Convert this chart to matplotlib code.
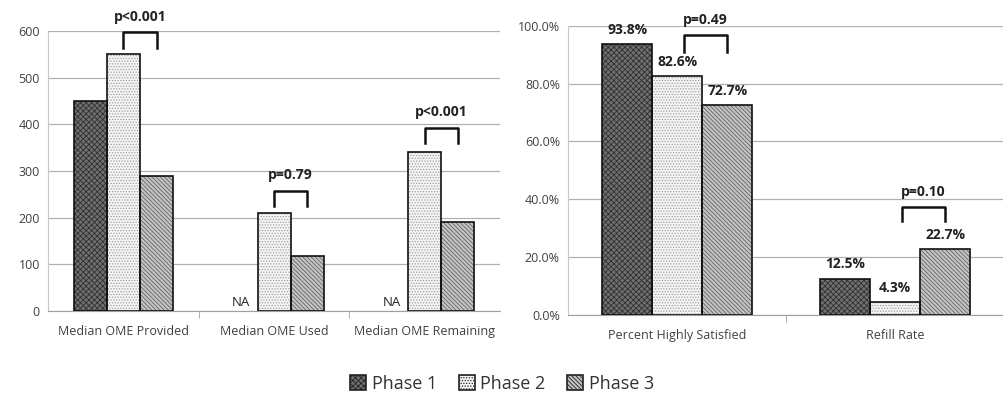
import matplotlib.pyplot as plt
import numpy as np
from matplotlib.patches import Patch
from matplotlib.ticker import PercentFormatter

plt.rcParams['font.family'] = ['Open Sans', 'DejaVu Sans']
plt.rcParams['hatch.linewidth'] = 0.6

# data
left_cats = ['Median OME Provided', 'Median OME Used', 'Median OME Remaining']
left_p1 = [450, np.nan, np.nan]
left_p2 = [550, 210, 340]
left_p3 = [290, 117, 190]
left_pvals = ['p<0.001', 'p=0.79', 'p<0.001']

right_cats = ['Percent Highly Satisfied', 'Refill Rate']
right_p1 = [93.8, 12.5]
right_p2 = [82.6, 4.3]
right_p3 = [72.7, 22.7]
right_pvals = ['p=0.49', 'p=0.10']

phases = ['Phase 1', 'Phase 2', 'Phase 3']
faces = ['#707070', '#f4f4f4', '#c4c4c4']
hatch_cols = ['#303030', '#a0a0a0', '#666666']
hatches = ['xxxxxx', '......', '\\\\\\\\\\\\\\\\']
txt = '#404040'

fig = plt.figure(figsize=(10.04, 3.98), dpi=100)
ax1 = fig.add_axes([0.048, 0.219, 0.450, 0.703])
ax2 = fig.add_axes([0.566, 0.209, 0.434, 0.726])


def draw_bars(ax, series, width):
    x = np.arange(len(series[0]))
    for i, vals in enumerate(series):
        xi = x + (i - 1) * width
        ax.bar(xi, vals, width, color=faces[i], hatch=hatches[i],
               edgecolor=hatch_cols[i], linewidth=0, zorder=2)
        ax.bar(xi, vals, width, fill=False, edgecolor='#111111',
               linewidth=1.2, zorder=3)
    return x


def style(ax, ncat):
    ax.set_xlim(-0.5, ncat - 0.5)
    for s in ['top', 'right']:
        ax.spines[s].set_visible(False)
    ax.spines['left'].set_color('#c8c8c8')
    ax.spines['bottom'].set_color('#a0a0a0')
    ax.yaxis.grid(True, color='#b0b0b0', linewidth=0.9, zorder=0)
    ax.set_axisbelow(True)
    ax.tick_params(axis='y', length=0, labelsize=9, labelcolor=txt, pad=6)
    ax.tick_params(axis='x', which='major', length=0, labelsize=9,
                   labelcolor=txt, pad=10)
    ax.set_xticks(np.arange(ncat - 1) + 0.5, minor=True)
    ax.tick_params(axis='x', which='minor', length=5, color='#a0a0a0')


def bracket(ax, x0, x1, top, leg, label):
    ax.plot([x0, x0, x1, x1], [leg, top, top, leg], color='#111111',
            linewidth=1.8, clip_on=False, zorder=4)
    ax.annotate(label, ((x0 + x1) / 2, top), xytext=(0, 11),
                textcoords='offset points', ha='center', va='center',
                fontsize=10, fontweight='bold', color='#222222',
                annotation_clip=False)


# left chart
w1 = 0.22
x = draw_bars(ax1, [left_p1, left_p2, left_p3], w1)
style(ax1, len(left_cats))
ax1.set_ylim(0, 600)
ax1.set_yticks(np.arange(0, 601, 100))
ax1.set_xticks(x)
ax1.set_xticklabels(left_cats)
for i in range(len(left_cats)):
    if np.isnan(left_p1[i]):
        ax1.text(x[i] - w1, 5, 'NA', ha='center', va='bottom', fontsize=9.5,
                 color='#222222')
tops = [598, 258, 393]
legs = [563, 225, 360]
for i in range(len(left_cats)):
    bracket(ax1, x[i], x[i] + w1, tops[i], legs[i], left_pvals[i])

# right chart
w2 = 0.23
x = draw_bars(ax2, [right_p1, right_p2, right_p3], w2)
style(ax2, len(right_cats))
ax2.set_ylim(0, 100)
ax2.set_yticks(np.arange(0, 101, 20))
ax2.yaxis.set_major_formatter(PercentFormatter(decimals=1))
ax2.set_xticks(x)
ax2.set_xticklabels(right_cats)
for i in range(len(right_cats)):
    for j, vals in enumerate([right_p1, right_p2, right_p3]):
        ax2.text(x[i] + (j - 1) * w2, vals[i] + 2.5, f'{vals[i]:.1f}%',
                 ha='center', va='bottom', fontsize=10, fontweight='bold',
                 color='#222222', zorder=5)
rtops = [96.7, 37.3]
rlegs = [91.1, 32.3]
for i in range(len(right_cats)):
    bracket(ax2, x[i] + 0.03, x[i] + w2, rtops[i], rlegs[i], right_pvals[i])

handles = [Patch(facecolor=faces[i], hatch=hatches[i], edgecolor='#222222',
                 linewidth=1.2) for i in range(3)]
fig.legend(handles, phases, loc='center', bbox_to_anchor=(0.5, 0.035),
           ncol=3, frameon=False, fontsize=13, handlelength=0.9,
           handleheight=0.9, handletextpad=0.3, columnspacing=1.2,
           labelcolor='#333333')

fig.savefig('out.png', dpi=100)
